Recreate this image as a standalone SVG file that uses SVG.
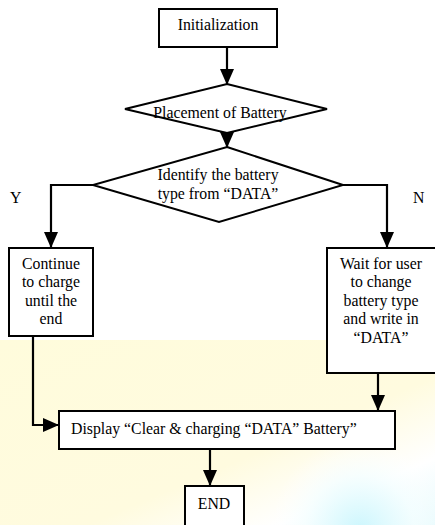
<svg xmlns="http://www.w3.org/2000/svg" width="435" height="525" viewBox="0 0 435 525">
<defs>
<style>
.box{fill:#fff;stroke:#000;stroke-width:2}
.ln{fill:none;stroke:#000;stroke-width:2.2}
.t{font-family:"Liberation Serif","Times New Roman",serif;font-size:15.8px;fill:#000}
.c{text-anchor:middle}
</style>
<marker id="ah" markerWidth="16" markerHeight="14" refX="16" refY="7" orient="auto" markerUnits="userSpaceOnUse" viewBox="0 0 16 14">
<path d="M0,0 L16,7 L0,14 z" fill="#000"/>
</marker>
<linearGradient id="bg" x1="0" y1="0" x2="1" y2="1">
<stop offset="0" stop-color="#fffcdc"/>
<stop offset="0.6" stop-color="#fffbdf"/>
<stop offset="0.82" stop-color="#ffffff"/>
<stop offset="1" stop-color="#e4fafd"/>
</linearGradient>
<radialGradient id="cy" cx="360" cy="530" r="90" gradientUnits="userSpaceOnUse">
<stop offset="0" stop-color="#ccf6fd" stop-opacity="1"/>
<stop offset="0.6" stop-color="#f4feff" stop-opacity="0.8"/>
<stop offset="1" stop-color="#ffffff" stop-opacity="0"/>
</radialGradient>
</defs>
<rect width="435" height="525" fill="#fff"/>
<rect x="0" y="340" width="435" height="185" fill="url(#bg)"/>
<rect x="0" y="340" width="435" height="185" fill="url(#cy)"/>

<g id="connectors">
<path class="ln" d="M227,47 V85" marker-end="url(#ah)"/>
<path class="ln" d="M227,133 V148" marker-end="url(#ah)"/>
<path class="ln" d="M93,185 H51 V248" marker-end="url(#ah)"/>
<path class="ln" d="M343,185 H387 V248" marker-end="url(#ah)"/>
<path class="ln" d="M33,336 V425 H59" marker-end="url(#ah)"/>
<path class="ln" d="M378,373 V411" marker-end="url(#ah)"/>
<path class="ln" d="M210,449 V486" marker-end="url(#ah)"/>
</g>

<g id="init">
<rect class="box" x="159" y="9" width="118" height="38"/>
<text class="t c" x="218" y="30">Initialization</text>
</g>
<g id="placement">
<polygon class="box" points="227,84 327,109 227,133 125,109"/>
<text class="t c" x="220" y="118">Placement of Battery</text>
</g>
<g id="identify">
<polygon class="box" points="227,147 343,185 219,222 93,185"/>
<text class="t c" x="218" y="180">Identify the battery</text>
<text class="t c" x="218" y="199">type from “DATA”</text>
</g>
<g id="label-y"><text class="t" x="10" y="203">Y</text></g>
<g id="label-n"><text class="t" x="413" y="203">N</text></g>
<g id="continue">
<rect class="box" x="9" y="248" width="84" height="88"/>
<text class="t c" x="51" y="269">Continue</text>
<text class="t c" x="51" y="287">to charge</text>
<text class="t c" x="51" y="306">until the</text>
<text class="t c" x="51" y="324">end</text>
</g>
<g id="wait">
<rect class="box" x="327" y="248" width="112" height="125"/>
<text class="t c" x="381" y="269">Wait for user</text>
<text class="t c" x="381" y="287">to change</text>
<text class="t c" x="381" y="306">battery type</text>
<text class="t c" x="381" y="324">and write in</text>
<text class="t c" x="381" y="343">“DATA”</text>
</g>
<g id="display">
<rect class="box" x="59" y="411" width="336" height="38"/>
<text class="t" x="71" y="434">Display “Clear &amp; charging “DATA” Battery”</text>
</g>
<g id="end">
<rect class="box" x="185" y="486" width="59" height="45"/>
<text class="t c" x="214" y="509">END</text>
</g>
</svg>
